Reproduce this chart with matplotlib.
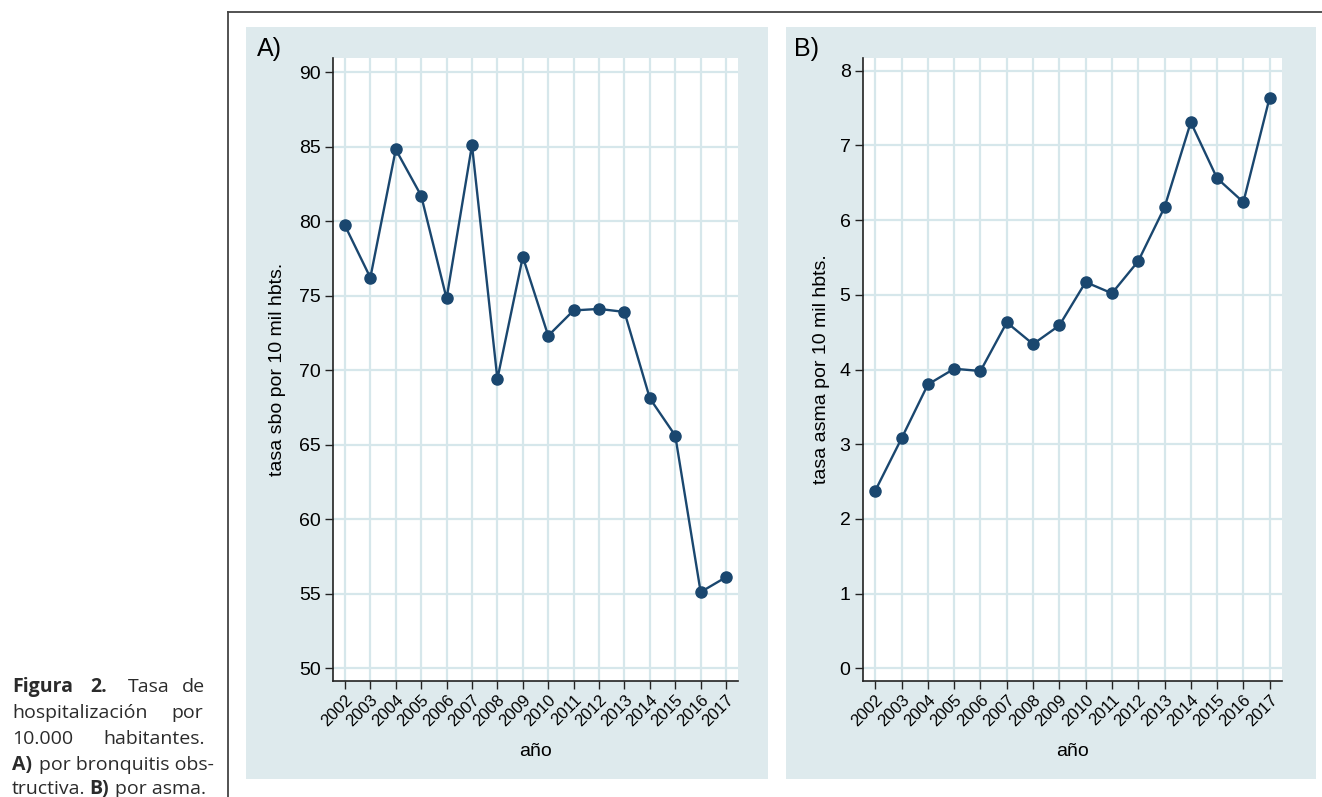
import matplotlib
matplotlib.use("Agg")
import matplotlib.pyplot as plt
from matplotlib.patches import Rectangle
from matplotlib.lines import Line2D

years = list(range(2002, 2018))
tasa_sbo = [79.7, 76.2, 84.8, 81.7, 74.8, 85.1, 69.4, 77.6, 72.3, 74.0, 74.1, 73.9, 68.1, 65.6, 55.1, 56.1]
tasa_asma = [2.38, 3.08, 3.80, 4.01, 3.98, 4.63, 4.34, 4.59, 5.17, 5.02, 5.45, 6.17, 7.31, 6.56, 6.24, 7.64]
yticks_a = [50, 55, 60, 65, 70, 75, 80, 85, 90]
yticks_b = [0, 1, 2, 3, 4, 5, 6, 7, 8]
ylabel_a = "tasa sbo por 10 mil hbts."
ylabel_b = "tasa asma por 10 mil hbts."
xlabel = "año"

W, H = 1322, 797
fig = plt.figure(figsize=(W / 100, H / 100), dpi=100)
fig.patch.set_facecolor("white")

def fx(x):
    return x / W

def fy(y):
    return 1 - y / H

navy = "#1a476f"
bg = "#deeaed"
grid = "#d6e7eb"

# outer frame
fig.add_artist(Line2D([fx(228), fx(228)], [fy(12), 0], color="#444444", lw=1.3))
fig.add_artist(Line2D([fx(228), 1], [fy(12), fy(12)], color="#444444", lw=1.3))

# panel backgrounds
for (x0, x1) in [(246, 768), (786, 1316)]:
    fig.add_artist(Rectangle((fx(x0), fy(779)), fx(x1) - fx(x0), fy(27) - fy(779),
                             transform=fig.transFigure, facecolor=bg, edgecolor="none", zorder=0))

def make_panel(left, right, vals, yticks, ylim, ylab, ylab_x, title, title_x):
    ax = fig.add_axes([fx(left), fy(681), fx(right) - fx(left), fy(58) - fy(681)])
    ax.set_facecolor("white")
    ax.plot(years, vals, color=navy, lw=1.7, marker="o", markersize=8,
            markerfacecolor=navy, markeredgecolor=navy, zorder=3, clip_on=False)
    ax.set_xlim(2001.53, 2017.47)
    ax.set_ylim(*ylim)
    ax.set_xticks(years)
    ax.set_xticklabels([str(y) for y in years], rotation=45, ha="right",
                       rotation_mode="anchor", fontsize=12, family="Liberation Sans")
    ax.set_yticks(yticks)
    ax.set_yticklabels([str(v) for v in yticks], fontsize=14, family="Liberation Sans")
    ax.tick_params(axis="both", direction="out", length=6, width=1, color="#222222", pad=3)
    ax.tick_params(axis="x", pad=2)
    for s in ["top", "right"]:
        ax.spines[s].set_visible(False)
    for s in ["left", "bottom"]:
        ax.spines[s].set_color("#222222")
        ax.spines[s].set_linewidth(1.2)
    ax.grid(True, color=grid, lw=1.6)
    ax.set_axisbelow(True)
    fig.text(fx(ylab_x), fy(369), ylab, rotation=90, ha="center", va="center",
             fontsize=14, family="Liberation Sans")
    fig.text(fx((left + right) / 2), fy(752), xlabel, ha="center", va="center",
             fontsize=14, family="Liberation Sans")
    fig.text(fx(title_x), fy(49), title, ha="left", va="center", fontsize=18,
             family="Liberation Sans")
    return ax

make_panel(333, 738, tasa_sbo, yticks_a, (49.13, 90.94), ylabel_a, 278, "A)", 257)
make_panel(863, 1282, tasa_asma, yticks_b, (-0.17, 8.17), ylabel_b, 822, "B)", 794)

# caption (justified manually)
cap_font = ["Open Sans", "DejaVu Sans"]
cs = 14
col = "#2b2b2b"
R = 205
lines = [
    (692, [("Figura", "bold", 12, "left"), ("2.", "bold", 90, "left"), ("Tasa", "normal", 128, "left"), ("de", "normal", R, "right")]),
    (718, [("hospitalización", "normal", 12, "left"), ("por", "normal", R - 2, "right")]),
    (744, [("10.000", "normal", 12, "left"), ("habitantes.", "normal", R, "right")]),
    (770, [("A)", "bold", 12, "left"), ("por bronquitis obs-", "normal", 39, "left")]),
    (794, [("tructiva.", "normal", 12, "left"), ("B)", "bold", 89, "left"), ("por asma.", "normal", 115, "left")]),
]
for y, words in lines:
    for txt, wt, x, ha in words:
        fig.text(fx(x), fy(y), txt, ha=ha, va="baseline", fontsize=cs, fontweight=wt,
                 family=cap_font, color=col)

fig.savefig("out.png", dpi=100, facecolor="white")
